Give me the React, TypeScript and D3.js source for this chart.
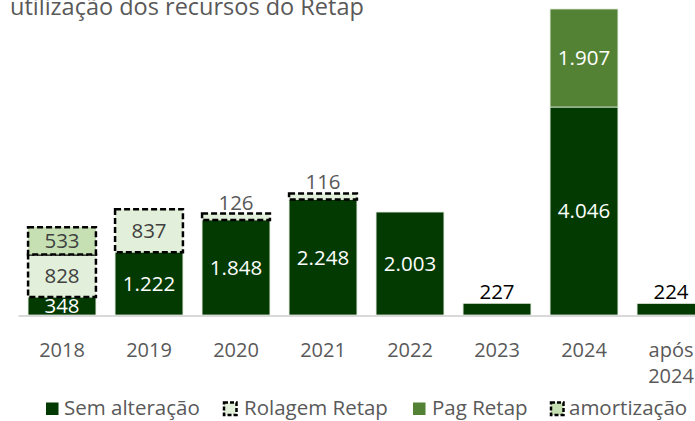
import React from "react";
import * as d3 from "d3";

const categories = ["2018", "2019", "2020", "2021", "2022", "2023", "2024", "após 2024"];
const semAlteracao = [348, 1222, 1848, 2248, 2003, 227, 4046, 224];
const rolagemRetap = [828, 837, 126, 116, 0, 0, 0, 0];
const pagRetap = [0, 0, 0, 0, 0, 0, 1907, 0];
const amortizacao = [533, 0, 0, 0, 0, 0, 0, 0];

const seriesNames = ["Sem alteração", "Rolagem Retap", "Pag Retap", "amortização"];
const title = "utilização dos recursos do Retap";

const W = 695;
const H = 421;
const FONT = "'Open Sans', sans-serif";

const styles = [
  { fill: "#023a02", dashed: false, text: "#ffffff", outside: "#000000" },
  { fill: "#e2efda", dashed: true, text: "#404040", outside: "#595959" },
  { fill: "#548235", dashed: false, text: "#ffffff", outside: "#000000" },
  { fill: "#c6e0b4", dashed: true, text: "#404040", outside: "#595959" },
];

// legend positions (marker x, text x)
const legendPos = [
  [46, 64],
  [224, 244],
  [413, 432],
  [551, 569],
];

export default function App() {
  const baseY = 315;
  const x = d3
    .scaleBand<string>()
    .domain(categories)
    .range([18.5, 18.5 + 87 * categories.length])
    .paddingInner(0.22)
    .paddingOuter(0.11);

  const totals = categories.map((_, i) => semAlteracao[i] + rolagemRetap[i] + pagRetap[i] + amortizacao[i]);
  const y = d3.scaleLinear().domain([0, d3.max(totals) as number]).range([baseY, 9]);

  const rows = categories.map((c, i) => ({
    cat: c,
    s0: semAlteracao[i],
    s1: rolagemRetap[i],
    s2: pagRetap[i],
    s3: amortizacao[i],
  }));
  const stack = d3.stack<any>().keys(["s0", "s1", "s2", "s3"]);
  const layers = stack(rows);
  // index of top-most non-empty segment per category
  const topK = categories.map((_, i) => {
    let t = 0;
    layers.forEach((l, k) => {
      if (l[i][1] - l[i][0] > 0) t = k;
    });
    return t;
  });
  const fmt = (v: number) => d3.format(",")(v).replace(/,/g, ".");

  return (
    <svg width={W} height={H} style={{ position: "absolute", left: 0, top: 0, background: "#fff" }}>
      <defs>
        <clipPath id="plot">
          <rect x={0} y={0} width={W} height={baseY} />
        </clipPath>
      </defs>
      <text x={10} y={15} fontFamily={FONT} fontSize={23.5} fill="#595959">
        {title}
      </text>

      {layers.map((layer, k) => (
        <g key={k}>
          {layer.map((d, i) => {
            const v = d[1] - d[0];
            if (v <= 0) return null;
            const st = styles[k];
            const x0 = x(categories[i]) as number;
            const bw = x.bandwidth();
            const yTop = y(d[1]);
            const h = y(d[0]) - yTop;
            return (
              <rect
                key={i}
                x={x0}
                y={yTop}
                width={bw}
                height={h}
                fill={st.fill}
                stroke={st.dashed ? "#000" : "#dfe8d8"}
                strokeWidth={st.dashed ? 2.5 : 0.8}
                strokeDasharray={st.dashed ? "6 3" : undefined}
              />
            );
          })}
        </g>
      ))}

      <line x1={18.5} x2={W} y1={baseY + 1} y2={baseY + 1} stroke="#d9d9d9" strokeWidth={2} />

      <g clipPath="url(#plot)" fontFamily={FONT} fontSize={20.5} textAnchor="middle">
        {layers.map((layer, k) =>
          layer.map((d, i) => {
            const v = d[1] - d[0];
            if (v <= 0) return null;
            const st = styles[k];
            const cx = (x(categories[i]) as number) + x.bandwidth() / 2;
            const yTop = y(d[1]);
            const h = y(d[0]) - yTop;
            if (h < 16 && topK[i] === k) {
              return (
                <text key={`${k}-${i}`} x={cx} y={yTop - 4} fill={st.outside}>
                  {fmt(v)}
                </text>
              );
            }
            return (
              <text key={`${k}-${i}`} x={cx} y={yTop + h / 2} dy="0.36em" fill={st.text}>
                {fmt(v)}
              </text>
            );
          })
        )}
      </g>

      <g fontFamily={FONT} fontSize={20} fill="#595959" textAnchor="middle">
        {categories.map((c) => {
          const cx = (x(c) as number) + x.bandwidth() / 2;
          const parts = c.split(" ");
          return (
            <text key={c} x={cx} y={357}>
              {parts.map((p, j) => (
                <tspan key={j} x={cx} dy={j === 0 ? 0 : 26}>
                  {p}
                </tspan>
              ))}
            </text>
          );
        })}
      </g>

      <g fontFamily={FONT} fontSize={20.5} fill="#595959">
        {seriesNames.map((n, k) => {
          const st = styles[k];
          const [mx, tx] = legendPos[k];
          return (
            <g key={n}>
              <rect
                x={mx}
                y={402.5}
                width={12.5}
                height={12.5}
                fill={st.fill}
                stroke={st.dashed ? "#000" : "none"}
                strokeWidth={st.dashed ? 2.5 : 0}
                strokeDasharray={st.dashed ? "4 2" : undefined}
              />
              <text x={tx} y={415}>
                {n}
              </text>
            </g>
          );
        })}
      </g>
    </svg>
  );
}
